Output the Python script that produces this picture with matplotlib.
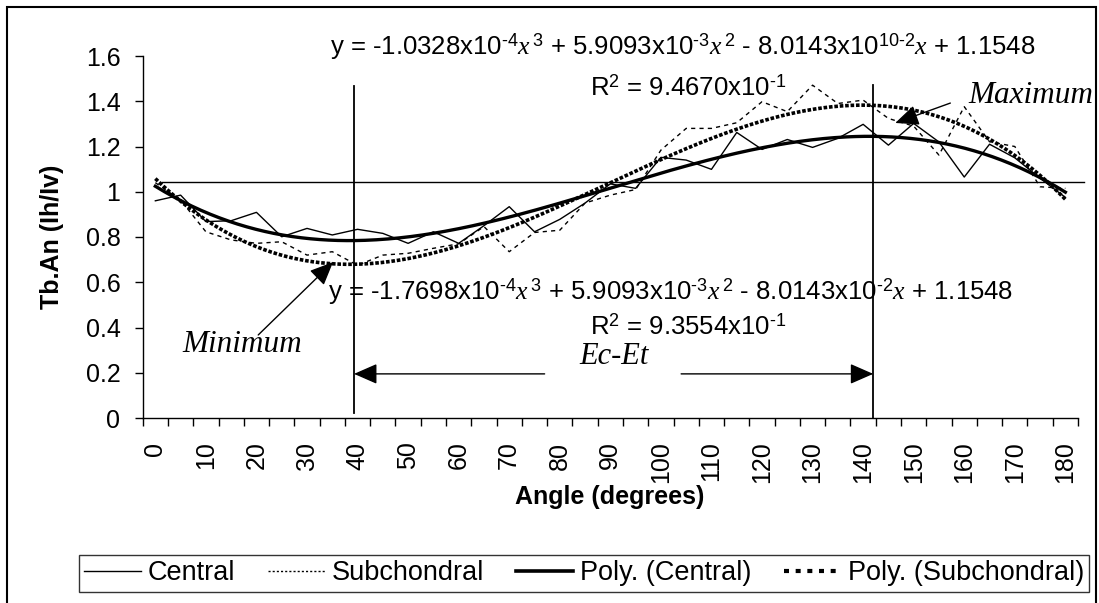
import numpy as np
import matplotlib
matplotlib.use('Agg')
import matplotlib.pyplot as plt
from matplotlib.patches import Rectangle
from matplotlib.lines import Line2D

# data (Tb.An vs angle, 5 degree steps)
angles = [0, 5, 10, 15, 20, 25, 30, 35, 40, 45, 50, 55, 60, 65, 70, 75, 80, 85, 90,
          95, 100, 105, 110, 115, 120, 125, 130, 135, 140, 145, 150, 155, 160, 165, 170, 175, 180]
central = [0.96, 0.985, 0.868, 0.872, 0.909, 0.801, 0.838, 0.809, 0.834, 0.816,
           0.772, 0.823, 0.772, 0.85, 0.934, 0.823, 0.878, 0.95, 1.035, 1.015,
           1.152, 1.14, 1.099, 1.262, 1.187, 1.231, 1.196, 1.236, 1.298, 1.206,
           1.302, 1.22, 1.065, 1.21, 1.15, 1.06, 0.975]
subchondral = [1.04, 0.963, 0.823, 0.787, 0.772, 0.779, 0.72, 0.735, 0.675, 0.72,
               0.728, 0.75, 0.77, 0.846, 0.735, 0.82, 0.83, 0.95, 0.985, 1.01,
               1.184, 1.28, 1.28, 1.305, 1.398, 1.354, 1.471, 1.39, 1.405, 1.324,
               1.29, 1.162, 1.376, 1.221, 1.20, 1.022, 1.015]
y_ticks = [0, 0.2, 0.4, 0.6, 0.8, 1.0, 1.2, 1.4, 1.6]
y_labels = ['0', '0.2', '0.4', '0.6', '0.8', '1', '1.2', '1.4', '1.6']
ref_level = 1.045
min_angle, max_angle = 39.3, 142.0
legend_labels = ['Central', 'Subchondral', 'Poly. (Central)', 'Poly. (Subchondral)']

eq_sub = (r'y = -1.0328x10$^{\text{-4}}$$x^{\,\text{3}}$ + 5.9093x10$^{\text{-3}}$$x^{\,\text{2}}$'
          r' - 8.0143x10$^{\text{10-2}}$$x$ + 1.1548')
r2_sub = r'R$^{\text{2}}$ = 9.4670x10$^{\text{-1}}$'
eq_cen = (r'y = -1.7698x10$^{\text{-4}}$$x^{\,\text{3}}$ + 5.9093x10$^{\text{-3}}$$x^{\,\text{2}}$'
          r' - 8.0143x10$^{\text{-2}}$$x$ + 1.1548')
r2_cen = r'R$^{\text{2}}$ = 9.3554x10$^{\text{-1}}$'

plt.rcParams['font.family'] = ['Liberation Sans', 'DejaVu Sans']
plt.rcParams['mathtext.fontset'] = 'custom'
plt.rcParams['mathtext.rm'] = 'Liberation Sans'
plt.rcParams['mathtext.it'] = 'Liberation Serif:italic'
plt.rcParams['mathtext.bf'] = 'Liberation Sans:bold'

W, H = 1099, 603
fs = 18

def fx(px):
    return px / W

def fy(py):
    return 1 - py / H

def cat(angle):
    return angle / 5.0

fig = plt.figure(figsize=(W / 100, H / 100), dpi=100)
ax = fig.add_axes([fx(142.7), fy(418), fx(1078) - fx(142.7), fy(56) - fy(418)])

n = len(angles)
idx = np.arange(n)

# Excel style polynomial trendlines (order 3) on category index
xs = np.linspace(0, n - 1, 400)
poly_c = np.polyval(np.polyfit(idx + 1, central, 3), xs + 1)
poly_s = np.polyval(np.polyfit(idx + 1, subchondral, 3), xs + 1)

ax.plot(idx, central, color='black', lw=1.0)
ax.plot(idx, subchondral, color='black', lw=1.0, ls=(0, (3, 3)))
ax.plot(xs, poly_c, color='black', lw=2.4)
ax.plot(xs, poly_s, color='black', lw=2.6, ls=(0, (1, 0.5)))

ax.set_xlim(-0.5, n - 0.5)
ax.set_ylim(0, 1.6)
for s in ['top', 'right']:
    ax.spines[s].set_visible(False)
ax.spines['left'].set_linewidth(1.0)
ax.spines['bottom'].set_linewidth(1.0)

ax.set_yticks(y_ticks)
ax.set_yticklabels(y_labels, fontsize=fs)
ax.tick_params(axis='y', direction='out', length=6, width=1, pad=10)

ax.set_xticks(np.arange(-0.5, n, 1.0))
ax.set_xticklabels([''] * (n + 1))
ax.tick_params(axis='x', which='major', direction='out', length=6, width=1)
ax.set_xticks(idx[::2], minor=True)
ax.set_xticklabels([str(a) for a in angles[::2]], minor=True, rotation=90, fontsize=fs)
ax.tick_params(axis='x', which='minor', length=0, pad=17)

# reference lines
ax.plot([0.25, n - 0.25], [ref_level, ref_level], color='black', lw=1.0, clip_on=False)
ax.plot([cat(min_angle), cat(min_angle)], [0.022, 1.467], color='black', lw=1.3, clip_on=False)
ax.plot([cat(max_angle), cat(max_angle)], [0.0, 1.47], color='black', lw=1.3, clip_on=False)

# Ec-Et double arrow
head = dict(arrowstyle='-|>,head_length=0.8,head_width=0.35', mutation_scale=18,
            color='black', lw=1.0, shrinkA=0, shrinkB=0)
ax.annotate('', xy=(cat(min_angle), 0.195), xytext=(15.4, 0.195), arrowprops=head)
ax.annotate('', xy=(cat(max_angle), 0.195), xytext=(20.8, 0.195), arrowprops=head)
ax.text(18.16, 0.27, 'Ec-Et', fontsize=22, family='Liberation Serif', style='italic',
        ha='center', va='center')

# Minimum / Maximum labels
ax.annotate('', xy=(7.03, 0.689), xytext=(4.07, 0.367), arrowprops=head)
ax.text(3.44, 0.323, 'Minimum', fontsize=22.5, family='Liberation Serif', style='italic',
        ha='center', va='center')
ax.annotate('', xy=(29.27, 1.304), xytext=(31.45, 1.392), arrowprops=head)
ax.text(32.17, 1.427, 'Maximum', fontsize=22.5, family='Liberation Serif', style='italic',
        ha='left', va='center', clip_on=False)

# trendline equations
ax.text(6.92, 1.64, eq_sub, fontsize=18.5, ha='left', va='center', clip_on=False)
ax.text(17.2, 1.458, r2_sub, fontsize=18.5, ha='left', va='center')
ax.text(6.83, 0.557, eq_cen, fontsize=18.5, ha='left', va='center')
ax.text(17.2, 0.402, r2_cen, fontsize=18.5, ha='left', va='center')

fig.text(fx(52), fy(237), 'Tb.An (Ih/Iv)', rotation=90, fontsize=fs, fontweight='bold',
         ha='center', va='center')
fig.text(fx(610), fy(497), 'Angle (degrees)', fontsize=fs, fontweight='bold',
         ha='center', va='center')

handles = [Line2D([], [], color='black', lw=1.0),
           Line2D([], [], color='black', lw=1.0, ls=(0, (1.5, 1.5))),
           Line2D([], [], color='black', lw=2.6),
           Line2D([], [], color='black', lw=3.0, ls=(0, (1.2, 1.6)))]
leg = fig.legend(handles, legend_labels, loc='center', bbox_to_anchor=(fx(584), fy(573.5)),
                 ncol=4, fontsize=19.5, frameon=True, fancybox=False, handlelength=2.1,
                 handletextpad=0.25, columnspacing=1.2, borderpad=0.2, borderaxespad=0)
leg.get_frame().set_edgecolor('black')
leg.get_frame().set_linewidth(1.0)

# chart area border
fig.patches.append(Rectangle((fx(7), fy(640)), fx(1096) - fx(7), fy(7) - fy(640),
                             transform=fig.transFigure, fill=False, edgecolor='black', lw=1.5))

fig.savefig('out.png', dpi=100)
